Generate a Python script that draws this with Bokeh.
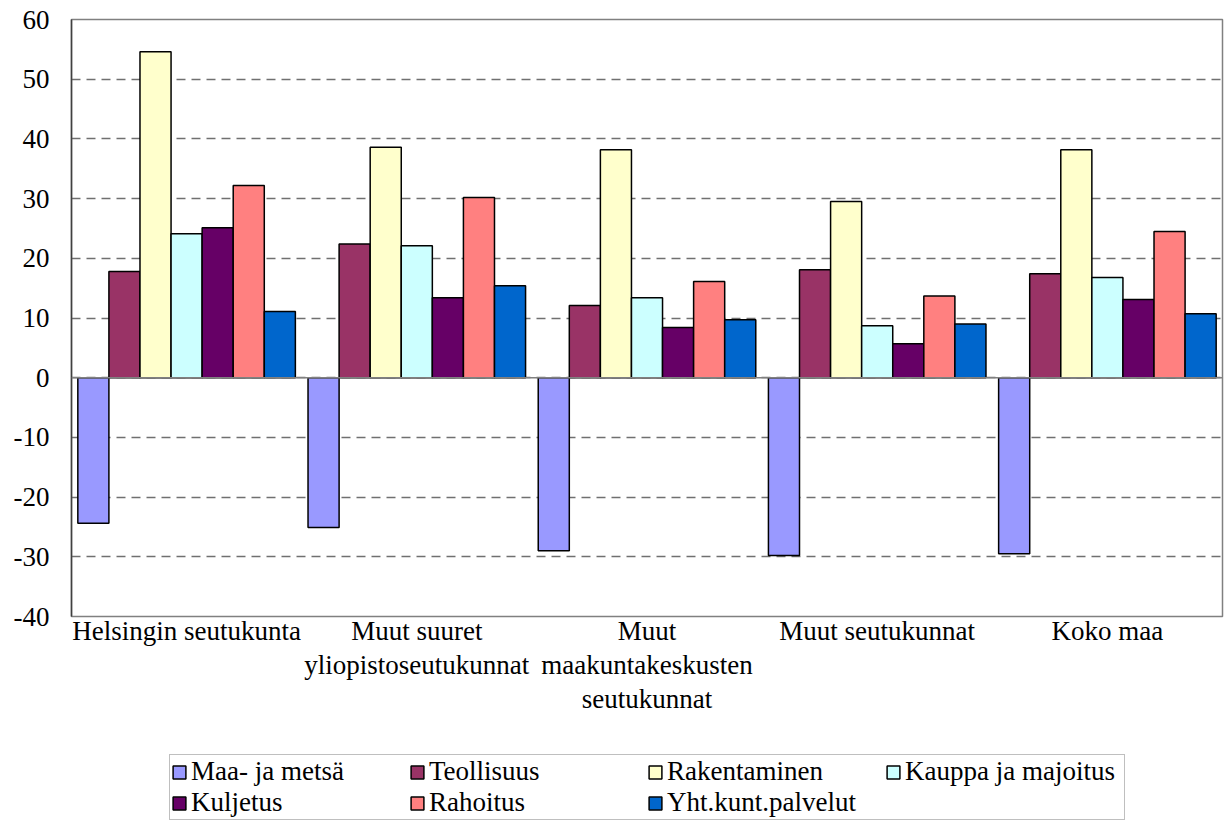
from bokeh.plotting import figure
from bokeh.layouts import column
from bokeh.models import (ColumnDataSource, Range1d, FixedTicker, LinearAxis,
                          Legend, LegendItem, Span, PrintfTickFormatter)
from bokeh.transform import dodge
from bokeh.embed import file_html
from bokeh.resources import INLINE

# Region groups (x categories); the label lines are shown under each group
regions = ["Helsingin seutukunta", "Muut suuret yliopistoseutukunnat",
           "Muut maakuntakeskusten seutukunnat", "Muut seutukunnat", "Koko maa"]
region_label_lines = [
    ["Helsingin seutukunta"],
    ["Muut suuret", "yliopistoseutukunnat"],
    ["Muut", "maakuntakeskusten", "seutukunnat"],
    ["Muut seutukunnat"],
    ["Koko maa"],
]

# Industry series, change (%) per region
maa_ja_metsa = [-24.4, -25.1, -29.0, -29.8, -29.5]
teollisuus = [17.8, 22.4, 12.1, 18.1, 17.4]
rakentaminen = [54.6, 38.6, 38.2, 29.5, 38.2]
kauppa_ja_majoitus = [24.1, 22.1, 13.4, 8.7, 16.8]
kuljetus = [25.1, 13.4, 8.4, 5.7, 13.1]
rahoitus = [32.2, 30.2, 16.1, 13.7, 24.5]
yht_kunt_palvelut = [11.1, 15.4, 9.7, 9.0, 10.7]

series_names = ["Maa- ja metsä", "Teollisuus", "Rakentaminen", "Kauppa ja majoitus",
                "Kuljetus", "Rahoitus", "Yht.kunt.palvelut"]
series_values = [maa_ja_metsa, teollisuus, rakentaminen, kauppa_ja_majoitus,
                 kuljetus, rahoitus, yht_kunt_palvelut]
series_colors = ["#9999FF", "#993366", "#FFFFCC", "#CCFFFF",
                 "#660066", "#FF8080", "#0066CC"]

y_ticks = [-40, -30, -20, -10, 0, 10, 20, 30, 40, 50, 60]

FONT = "Liberation Serif"
FONT_SIZE = "27px"
W = 1226
CHART_H = 740
LEGEND_H = 95

centers = [i + 0.5 for i in range(len(regions))]
data = {"region": regions, "xc": centers}
for i, vals in enumerate(series_values):
    data[f"s{i}"] = vals
source = ColumnDataSource(data)

p = figure(width=W, height=CHART_H, x_range=Range1d(0, len(regions)),
           y_range=Range1d(-40, 60), output_backend="svg", toolbar_location=None,
           x_axis_location=None,
           min_border_left=71, min_border_right=4, min_border_top=19,
           min_border_bottom=124)

p.background_fill_color = "white"
p.border_fill_color = "white"
p.outline_line_color = "#808080"
p.outline_line_width = 1.5

# Horizontal dashed grid
p.xgrid.grid_line_color = None
p.ygrid.ticker = FixedTicker(ticks=y_ticks)
p.ygrid.grid_line_color = "#707070"
p.ygrid.grid_line_dash = "9 6"
p.ygrid.grid_line_width = 1.3

# Y axis
p.yaxis.ticker = FixedTicker(ticks=y_ticks)
p.yaxis.formatter = PrintfTickFormatter(format="%d")
p.yaxis.axis_line_color = "#404040"
p.yaxis.axis_line_width = 1.5
p.yaxis.major_tick_out = 0
p.yaxis.major_tick_in = 0
p.yaxis.minor_tick_line_color = None
p.yaxis.major_label_standoff = 22
p.yaxis.major_label_text_font = FONT
p.yaxis.major_label_text_font_size = FONT_SIZE
p.yaxis.major_label_text_color = "black"

# Category names under the groups, one axis per text line
n_lines = max(len(lines) for lines in region_label_lines)
for k in range(n_lines):
    ax = LinearAxis(ticker=FixedTicker(ticks=centers))
    ax.major_label_overrides = {c: (lines[k] if k < len(lines) else "")
                                for c, lines in zip(centers, region_label_lines)}
    ax.axis_line_color = None
    ax.major_tick_line_color = None
    ax.minor_tick_line_color = None
    ax.major_tick_out = 0
    ax.major_tick_in = 0
    ax.major_label_standoff = -1 if k == 0 else 1
    ax.major_label_text_font = FONT
    ax.major_label_text_font_size = FONT_SIZE
    ax.major_label_text_color = "black"
    p.add_layout(ax, "below")

bar_w = 0.135
renderers = []
for i, (name, color) in enumerate(zip(series_names, series_colors)):
    r = p.vbar(x=dodge("xc", (i - 3) * bar_w), top=f"s{i}",
               bottom=0, width=bar_w, source=source, fill_color=color,
               line_color="black", line_width=1.5)
    renderers.append(r)

# Zero line
p.add_layout(Span(location=0, dimension="width", line_color="#808080", line_width=1.5))

# Legend panel below the chart
lg = figure(width=W, height=LEGEND_H, x_range=Range1d(0, 1), y_range=Range1d(0, 1),
            output_backend="svg", toolbar_location=None,
            x_axis_location=None, y_axis_location=None,
            min_border=0)
lg.outline_line_color = None
lg.xgrid.grid_line_color = None
lg.ygrid.grid_line_color = None
lg.background_fill_color = "white"
lg.border_fill_color = "white"

# Swatch renderers for the legend keys: a tiny row that sits under the opaque legend box
key_source = ColumnDataSource({"x": [0.5], "top": [0.52], "bottom": [0.48]})
swatches = [lg.vbar(x="x", top="top", bottom="bottom", width=0.005, source=key_source,
                    fill_color=c, line_color="black", line_width=1.5)
            for c in series_colors]

legend = Legend(items=[LegendItem(label=n, renderers=[r], index=0)
                       for n, r in zip(series_names, swatches)],
                location=(98, 15), orientation="horizontal", ncols=4,
                glyph_width=16, glyph_height=16, label_standoff=4, label_width=218,
                spacing=0, padding=1, margin=0,
                label_text_font=FONT, label_text_font_size=FONT_SIZE,
                label_text_color="black",
                border_line_color="#808080", border_line_width=1.2,
                background_fill_color="white", background_fill_alpha=1.0)
lg.add_layout(legend, "center")

layout = column(p, lg, spacing=0)
open("out.html", "w").write(file_html(layout, INLINE))
